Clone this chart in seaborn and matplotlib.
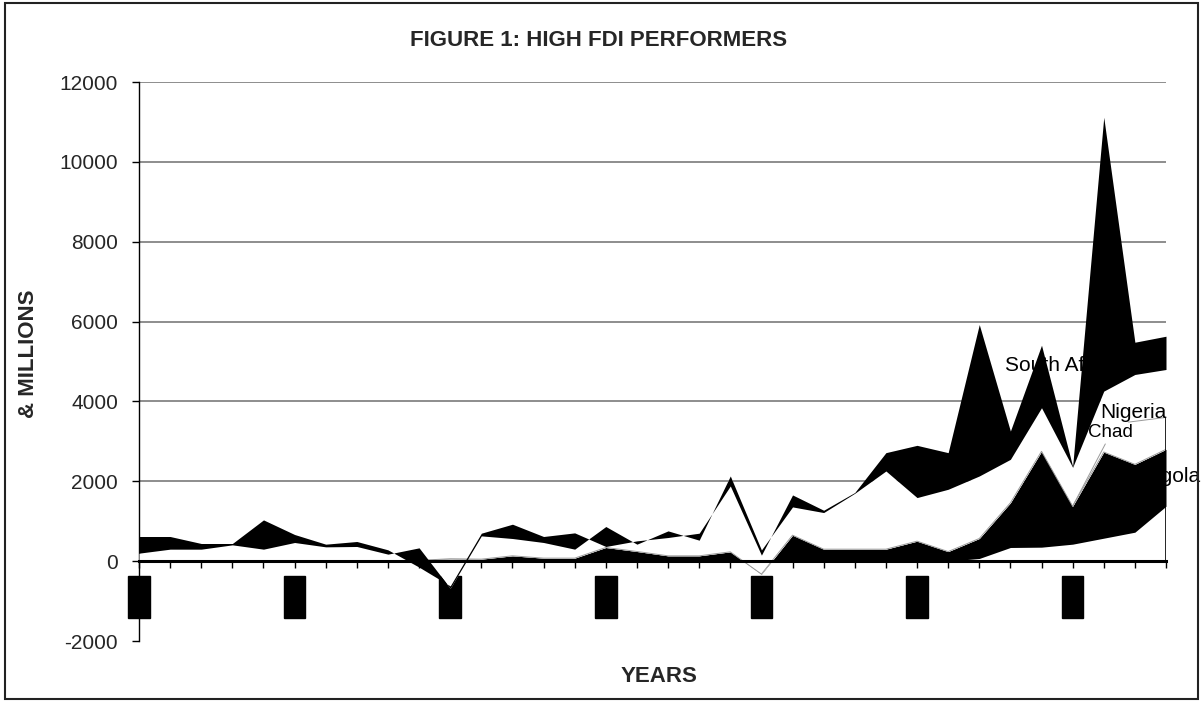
import matplotlib
matplotlib.use("Agg")
import matplotlib.pyplot as plt
from matplotlib.patches import Rectangle
import numpy as np
import pandas as pd
import seaborn as sns

# FDI inflows, US$ millions, 1970-2003 (stacked in this order)
years = list(range(1970, 2004))
chad = [0] * 27 + [67, 342, 350, 425, 575, 725, 1375]
angola = [0, 0, 0, 0, 0, 0, 0, 0, 0, 20,
          60, 50, 133, 75, 75, 342, 242, 133, 133, 233,
          -325, 650, 300, 300, 300, 500, 240, 500, 1118, 2400,
          950, 2158, 1700, 1425]
nigeria = [200, 300, 300, 408, 300, 467, 358, 367, 175, 313,
           -740, 583, 434, 392, 225, 525, 183, 625, 392, 1900,
           605, 708, 917, 1400, 1958, 1092, 1560, 1566, 1090, 1092,
           975, 1525, 2250, 2000]
south_africa = [417, 317, 142, 34, 733, 200, 67, 125, 108, -483,
                60, 67, 358, 150, 408, -500, 83, -166, 175, -250,
                -130, 300, 58, 20, 459, 1308, 917, 3792, 708, 1566,
                25, 6859, 808, 833]

series_names = ["Chad", "Angola", "Nigeria", "South Africa"]
series_fill = ["white", "black", "white", "black"]
label_years = list(range(1970, 2004, 5))
y_ticks = list(range(-2000, 12001, 2000))
nigeria_pointer = 3600

df = pd.DataFrame({"year": years, "Chad": chad, "Angola": angola,
                   "Nigeria": nigeria, "South Africa": south_africa})
stack = df[series_names].cumsum(axis=1)

sns.set_theme(style="white")
plt.rcParams["font.family"] = ["Liberation Sans", "DejaVu Sans"]

fig = plt.figure(figsize=(12.04, 7.02), dpi=100)
ax = fig.add_axes([0.11545, 0.08689, 0.85299, 0.7963])

# stacked bands, painted bottom to top
lower = np.zeros(len(years))
for i, name in enumerate(series_names):
    upper = stack[name].to_numpy()
    ax.fill_between(df["year"], lower, upper, color=series_fill[i],
                    lw=0, zorder=2 + i)
    if name == "Angola":
        angola_top = upper.copy()
    lower = upper

sns.lineplot(x=df["year"], y=angola_top, color="#9a9a9a", lw=0.7,
             zorder=4.5, ax=ax, legend=False)

ax.set_xlim(years[0], years[-1])
ax.set_ylim(y_ticks[0], y_ticks[-1])
ax.set_xlabel("")
ax.set_ylabel("")

ax.grid(axis="y", color="#7a7a7a", lw=1.2, zorder=1)
ax.set_axisbelow(True)

for side in ["top", "right"]:
    ax.spines[side].set_visible(False)
ax.spines["left"].set_color("black")
ax.spines["left"].set_linewidth(1.0)
ax.spines["bottom"].set_position(("data", 0))
ax.spines["bottom"].set_color("black")
ax.spines["bottom"].set_linewidth(2.2)
ax.spines["bottom"].set_zorder(6)

ax.tick_params(axis="y", which="major", direction="out", length=5,
               width=1, color="black", pad=10, left=True)
ax.tick_params(axis="x", which="both", direction="out", length=5,
               width=1, color="black", bottom=True)
ax.tick_params(axis="x", which="major", pad=8.5)

ax.set_yticks(y_ticks)
ax.set_yticklabels([str(v) for v in y_ticks], fontsize=15)
ax.set_xticks(years, minor=True)
ax.set_xticks(label_years)
ax.set_xticklabels([str(y) for y in label_years], rotation=90,
                   fontsize=11, color="black", va="top", ha="center",
                   bbox=dict(facecolor="black", edgecolor="black",
                             boxstyle="square,pad=0.25"))

for val, gl in zip(ax.get_yticks(), ax.get_ygridlines()):
    if val <= 0:
        gl.set_visible(False)

# series labels
ax.text(1997.83, 4900, "South Africa", fontsize=15, color="black",
        ha="left", va="center", zorder=7)
ax.annotate("Nigeria", xy=(years[-1], nigeria_pointer),
            xytext=(2000.88, 3720), fontsize=15, color="black",
            ha="left", va="center", zorder=7,
            arrowprops=dict(arrowstyle="-", color="#9a9a9a", lw=0.7,
                            relpos=(0.43, 0.0), shrinkA=0, shrinkB=0))
ax.annotate("Chad", xy=(2000, stack["Angola"].iloc[30]),
            xytext=(2000.5, 3230), fontsize=13.5, color="black",
            ha="left", va="center", zorder=7,
            arrowprops=dict(arrowstyle="-", color="#9a9a9a", lw=0.7,
                            relpos=(0.42, 0.0), shrinkA=0, shrinkB=0))
ax.text(2002.05, 2125, "Angola", fontsize=15, color="black",
        ha="left", va="center", zorder=7, clip_on=False)
ax.vlines(years[-1], 0, nigeria_pointer, color="black", lw=1.2, zorder=6)

fig.text(0.497, 1 - 40 / 702, "FIGURE 1: HIGH FDI PERFORMERS",
         fontsize=16, fontweight="bold", ha="center", va="center")
fig.text(28 / 1204, 1 - 354 / 702, "& MILLIONS", fontsize=16,
         fontweight="bold", rotation=90, ha="center", va="center")
fig.text(659 / 1204, 1 - 676 / 702, "YEARS", fontsize=16,
         fontweight="bold", ha="center", va="center")

fig.add_artist(Rectangle((0.004, 0.004), 0.991, 0.992,
                         transform=fig.transFigure, fill=False,
                         edgecolor="#222222", lw=1.5))

fig.savefig("out.png", dpi=100, facecolor="white")
